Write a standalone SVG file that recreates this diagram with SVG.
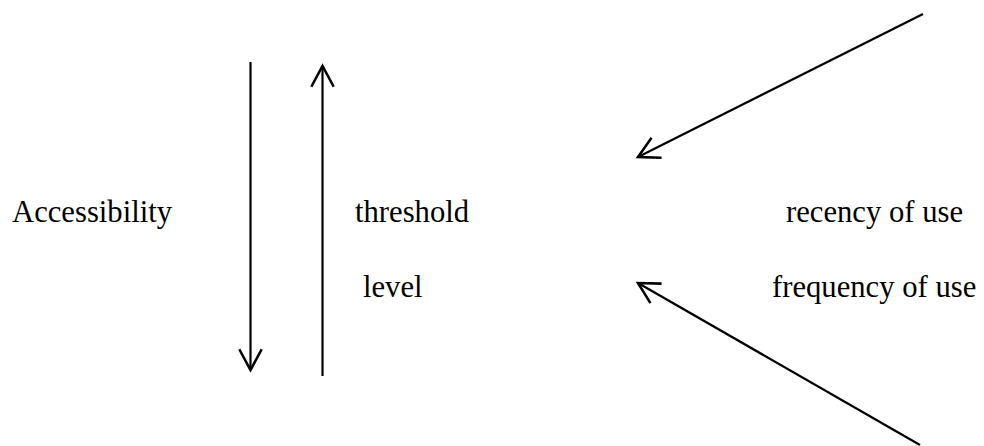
<svg xmlns="http://www.w3.org/2000/svg" width="984" height="446" viewBox="0 0 984 446">
<style>
.t{font-family:'Liberation Serif','Times New Roman',serif;font-size:30.67px;fill:#000}
.c{stroke:#000;stroke-width:2.2;fill:none}
</style>
<defs>
<marker id="ah" markerUnits="userSpaceOnUse" markerWidth="30" markerHeight="30" viewBox="-22 -12 26 24" refX="0" refY="0" orient="auto">
<path d="M -18 -9.7 L 0 0 L -18 9.7" fill="none" stroke="#000" stroke-width="2.2" stroke-linejoin="miter"/>
</marker>
</defs>
<rect width="984" height="446" fill="#fff"/>
<g id="connectors">
<line class="c" x1="250.5" y1="62" x2="250.5" y2="370" marker-end="url(#ah)"/>
<line class="c" x1="322.5" y1="376" x2="322.5" y2="66" marker-end="url(#ah)"/>
<line class="c" x1="923" y1="14" x2="638" y2="157" marker-end="url(#ah)"/>
<line class="c" x1="920" y1="445" x2="638" y2="283" marker-end="url(#ah)"/>
</g>
<g id="accessibility"><text class="t" x="12" y="222">Accessibility</text></g>
<g id="threshold"><text class="t" x="355" y="222">threshold</text></g>
<g id="level"><text class="t" x="363" y="297">level</text></g>
<g id="recency"><text class="t" x="786" y="222">recency of use</text></g>
<g id="frequency"><text class="t" x="772" y="297">frequency of use</text></g>
</svg>
